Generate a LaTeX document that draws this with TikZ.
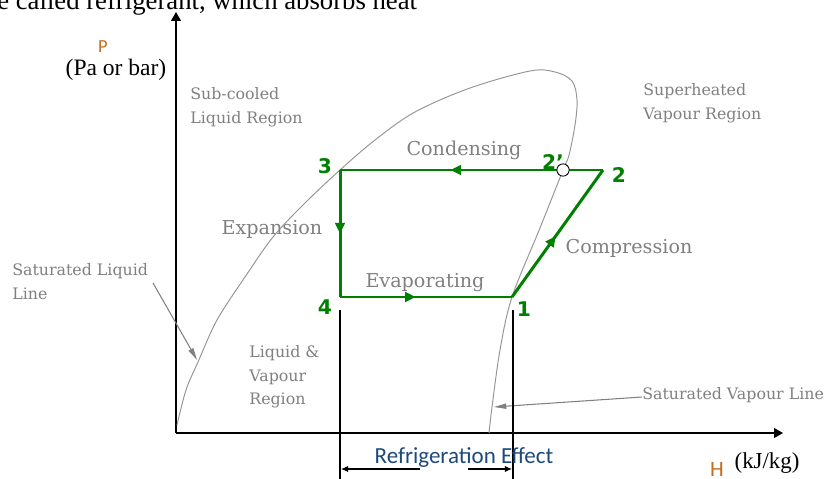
\documentclass[tikz,border=0pt]{standalone}
\usepackage{fontspec}
\setmainfont{Liberation Serif}
\newfontfamily\labfont{DejaVu Serif}
\newfontfamily\numfont{DejaVu Sans}
\newfontfamily\calfont{Carlito}
\usetikzlibrary{arrows.meta,decorations.markings}
\definecolor{cyclegreen}{RGB}{0,128,0}
\definecolor{labgray}{RGB}{128,128,128}
\definecolor{domegray}{RGB}{150,150,150}
\definecolor{axisorange}{RGB}{196,110,30}
\definecolor{effblue}{RGB}{31,73,125}

\begin{document}
\begin{tikzpicture}[
    x=0.02cm,
    y=-0.02cm,
    region/.style={font=\labfont\fontsize{9}{13.5}\selectfont, text=labgray, align=left, inner sep=0pt},
    process/.style={font=\labfont\fontsize{10.9}{13}\selectfont, text=labgray, inner sep=0pt},
    statenum/.style={font=\numfont\bfseries\fontsize{11.5}{13}\selectfont, text=cyclegreen, inner sep=0pt},
    axis/.style={line width=0.85pt, -{Triangle[length=5pt,width=5.5pt]}},
    cycleline/.style={cyclegreen, line width=1.7pt},
    midarrow/.style={postaction={decorate}, decoration={markings,
      mark=at position #1 with {\arrow{Triangle[length=6pt,width=5.5pt]}}}},
    leader/.style={labgray, line width=0.6pt, -{Triangle[length=7pt,width=3pt]}},
    dropline/.style={line width=0.6pt}
]
\useasboundingbox (0,0) rectangle (830,479);
\fill[white] (0,0) rectangle (830,479);
\begin{scope}
  \node[anchor=base west, inner sep=0pt, font=\fontsize{15.2}{18}\selectfont] (topline) at (-3,10)
    {e called refrigerant, which absorbs heat};

  \coordinate (o) at (176,433);
  \coordinate (ptop) at (176,12);
  \coordinate (hend) at (783,433);
  \draw[axis] (o) -- (ptop);
  \draw[axis] (o) -- (hend);

  \node[anchor=base, inner sep=0pt, font=\calfont\fontsize{10.5}{12}\selectfont, text=axisorange] (plab) at (103,53) {P};
  \node[anchor=base, inner sep=0pt, font=\fontsize{13.4}{15}\selectfont] (punit) at (116,76) {(Pa or bar)};
  \node[anchor=base, inner sep=0pt, font=\calfont\fontsize{12.5}{14}\selectfont, text=axisorange] (hlab) at (717,476) {H};
  \node[anchor=base, inner sep=0pt, font=\fontsize{13}{15}\selectfont] (hunit) at (767,468) {(kJ/kg)};

  \draw[domegray, line width=0.55pt] plot[smooth, tension=0.55] coordinates {
    (177,425) (186,390) (198,362) (217,320) (245,277) (273,237) (305,203) (340,170)
    (375,140) (415,112) (470,88) (530,71) (555,72) (572,81) (577,100) (575,125)
    (569,155) (563,170) (540,228) (512,297) (500,350) (492,407) (489,433)};

  \coordinate (p3) at (340,170);
  \coordinate (p2) at (603,170);
  \coordinate (p1) at (512,297);
  \coordinate (p4) at (340,297);
  \draw[cycleline, midarrow=0.5] (p3) -- (p4);
  \draw[cycleline, midarrow=0.44] (p4) -- (p1);
  \draw[cycleline, midarrow=0.48] (p1) -- (p2);
  \draw[cycleline, midarrow=0.58] (p2) -- (p3);
  \node[circle, draw, fill=white, line width=0.5pt, minimum size=7pt, inner sep=0pt] (p2s) at (563,170) {};

  \foreach \nm/\x/\y/\lab in {n3/325/166/3, n2/619/175/2, n1/524/309/1, n4/325/307/4, n2s/553/162/{2’}}{
    \node[statenum] (\nm) at (\x,\y) {\lab};
  }

  \node[process, anchor=base] (cond) at (464,156) {Condensing};
  \node[process, anchor=base] (expa) at (272,235) {Expansion};
  \node[process, anchor=base] (evap) at (425,287) {Evaporating};
  \node[process, anchor=base] (comp) at (629,254) {Compression};

  \node[region, anchor=north west] (subc) at (190,87) {Sub-cooled\\Liquid Region};
  \node[region, anchor=north west] (suph) at (643,83) {Superheated\\Vapour Region};
  \node[region, anchor=north west] (wet) at (249,345) {Liquid \&\\Vapour\\Region};
  \node[region, anchor=north west] (satliq) at (12,263) {Saturated Liquid\\Line};
  \node[region, anchor=west] (satvap) at (642,395) {Saturated Vapour Line};

  \coordinate (sl0) at (153,283);
  \coordinate (sl1) at (197,360);
  \draw[leader] (sl0) -- (sl1);
  \coordinate (sv0) at (642,397);
  \coordinate (sv1) at (494,407);
  \draw[leader] (sv0) -- (sv1);

  \coordinate (d4) at (340,310);
  \coordinate (d4b) at (340,479);
  \coordinate (d1) at (513,310);
  \coordinate (d1b) at (513,479);
  \draw[dropline] (d4) -- (d4b);
  \draw[dropline] (d1) -- (d1b);

  \node[anchor=base, inner sep=0pt, font=\calfont\fontsize{13.1}{15}\selectfont, text=effblue] (refeff) at (464,463)
    {Refrigeration Effect};
  \coordinate (ra) at (420,469);
  \coordinate (rl) at (341,469);
  \coordinate (rb) at (468,469);
  \coordinate (rr) at (512,469);
  \draw[line width=0.6pt, -{Latex[length=4pt,width=3.5pt]}] (ra) -- (rl);
  \draw[line width=0.6pt, -{Latex[length=4pt,width=3.5pt]}] (rb) -- (rr);
\end{scope}
\end{tikzpicture}
\end{document}
